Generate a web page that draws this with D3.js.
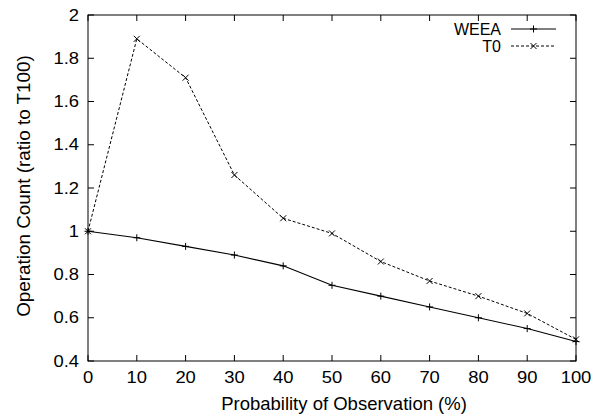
<!DOCTYPE html>
<html><head><meta charset="utf-8">
<script src="https://cdn.jsdelivr.net/npm/d3@7"></script>
<style>body{margin:0;background:#fff}svg{display:block}text{font-family:"Liberation Sans",Arial,sans-serif;fill:#000}</style>
</head><body><svg id="c" width="596" height="419"></svg>
<script>
const xValues = [0,10,20,30,40,50,60,70,80,90,100];
const weea = [1.0,0.97,0.93,0.89,0.84,0.75,0.70,0.65,0.60,0.55,0.49];
const t0 = [1.0,1.89,1.71,1.26,1.06,0.99,0.86,0.77,0.70,0.62,0.50];
const xTicks = [0,10,20,30,40,50,60,70,80,90,100];
const yTicks = [0.4,0.6,0.8,1,1.2,1.4,1.6,1.8,2];
const seriesNames = ["WEEA","T0"];

const svg = d3.select("#c");
const L=88,R=576,T=15,B=361;
const x = d3.scaleLinear().domain([0,100]).range([L,R]);
const y = d3.scaleLinear().domain([0.4,2]).range([B,T]);

function txt(sel, px, py, s, size, sx, anchor, rot){
  return sel.append("text")
    .attr("transform",`translate(${px},${py})${rot?" rotate(-90)":""} scale(${sx},1)`)
    .attr("text-anchor",anchor).style("font-size",size+"px").text(s);
}

const g = svg.append("g");
const tk = 6;
xTicks.forEach(v=>{
  g.append("line").attr("x1",x(v)).attr("x2",x(v)).attr("y1",B).attr("y2",B-tk).attr("stroke","#000");
  g.append("line").attr("x1",x(v)).attr("x2",x(v)).attr("y1",T).attr("y2",T+tk).attr("stroke","#000");
  txt(g, x(v), B+22, v, 16, 1.15, "middle");
});
yTicks.forEach(v=>{
  g.append("line").attr("x1",L).attr("x2",L+tk).attr("y1",y(v)).attr("y2",y(v)).attr("stroke","#000");
  g.append("line").attr("x1",R).attr("x2",R-tk).attr("y1",y(v)).attr("y2",y(v)).attr("stroke","#000");
  txt(g, L-9, y(v)+5.7, v, 16, 1.15, "end");
});
g.append("rect").attr("x",L).attr("y",T).attr("width",R-L).attr("height",B-T).attr("fill","none").attr("stroke","#000");

txt(svg, 344, 410, "Probability of Observation (%)", 18.5, 1.0, "middle");
txt(svg, 30, 186, "Operation Count (ratio to T100)", 18.5, 1.02, "middle", true);

const line = d3.line().x((d,i)=>x(xValues[i])).y(d=>y(d));
const plus = (sel,cx,cy)=>{ const s=3.5;
  sel.append("path").attr("d",`M${cx-s},${cy}H${cx+s}M${cx},${cy-s}V${cy+s}`).attr("stroke","#000").attr("stroke-width",1);};
const cross = (sel,cx,cy)=>{ const s=3;
  sel.append("path").attr("d",`M${cx-s},${cy-s}L${cx+s},${cy+s}M${cx-s},${cy+s}L${cx+s},${cy-s}`).attr("stroke","#000").attr("stroke-width",1);};

svg.append("path").datum(weea).attr("d",line).attr("fill","none").attr("stroke","#000").attr("stroke-width",1.1);
weea.forEach((v,i)=>plus(svg,x(xValues[i]),y(v)));
svg.append("path").datum(t0).attr("d",line).attr("fill","none").attr("stroke","#000").attr("stroke-width",1).attr("stroke-dasharray","3,2");
t0.forEach((v,i)=>cross(svg,x(xValues[i]),y(v)));

const lg = svg.append("g");
[[seriesNames[0],29,null,plus],[seriesNames[1],46,"3,2",cross]].forEach(([n,yy,da,m])=>{
  txt(lg, 501, yy+5.7, n, 16, 1.0, "end");
  const l=lg.append("line").attr("x1",511).attr("x2",556).attr("y1",yy).attr("y2",yy).attr("stroke","#000");
  if(da) l.attr("stroke-dasharray",da);
  m(lg,533.5,yy);
});
</script></body></html>
